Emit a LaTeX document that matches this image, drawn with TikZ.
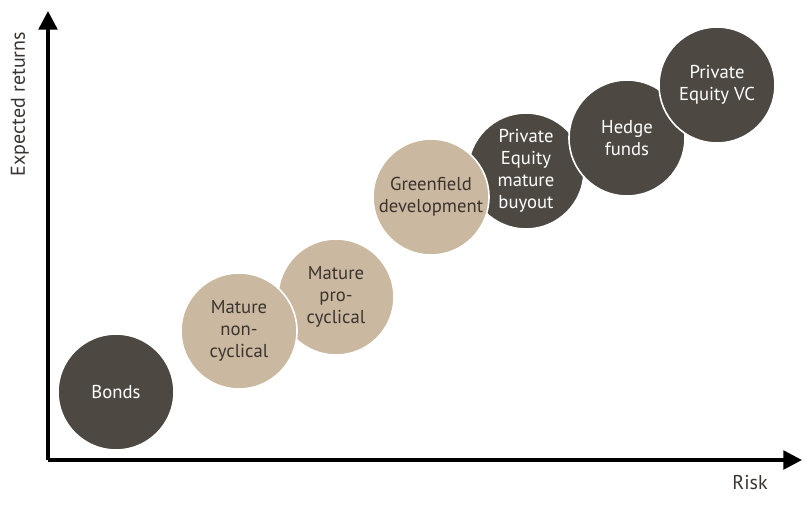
\documentclass[tikz,border=0pt]{standalone}
\usepackage{fontspec}
\setmainfont{PT Sans}
\usepackage{tikz}
\usetikzlibrary{arrows.meta}
\usepackage{xcolor}
\definecolor{darkbub}{RGB}{77,73,66}
\definecolor{sandbub}{RGB}{203,184,160}
\definecolor{sandtext}{RGB}{58,52,48}

\begin{document}
\begin{tikzpicture}[x=0.75pt,y=-0.75pt,
  bubble/.style={circle,draw=white,line width=1.2pt,minimum size=87pt,inner sep=0pt,
    align=center,font=\fontsize{14}{16.5}\selectfont},
  darkb/.style={bubble,fill=darkbub,text=white},
  sandb/.style={bubble,fill=sandbub,text=sandtext},
  axis/.style={line width=2.6pt,-{Triangle[length=14pt,width=14pt]}}]
\useasboundingbox (0,0) rectangle (811,508);

% Axes
\coordinate (orig) at (48,460);
\coordinate (ytip) at (48,11);
\coordinate (xtip) at (802,460);
\draw[axis] (orig)--(ytip);
\draw[axis] (orig)--(xtip);
\node[rotate=90,font=\fontsize{15}{18}\selectfont,text=sandtext] (ylab) at (20,104) {Expected returns};
\node[font=\fontsize{15}{18}\selectfont,text=sandtext] (xlab) at (750,483) {Risk};

% Bubbles, back to front
\node[darkb] (bonds) at (116,392) {Bonds};
\node[sandb] (procyc) at (336,297) {Mature\\pro-\\cyclical};
\node[sandb] (noncyc) at (239,331) {Mature\\non-\\cyclical};
\node[darkb] (buyout) at (526,171) {Private\\Equity\\mature\\buyout};
\node[sandb] (green) at (431,197) {Greenfield\\development};
\node[darkb] (hedge) at (627,138) {Hedge\\funds};
\node[darkb] (vc) at (717,85) {Private\\Equity VC};
\end{tikzpicture}
\end{document}
